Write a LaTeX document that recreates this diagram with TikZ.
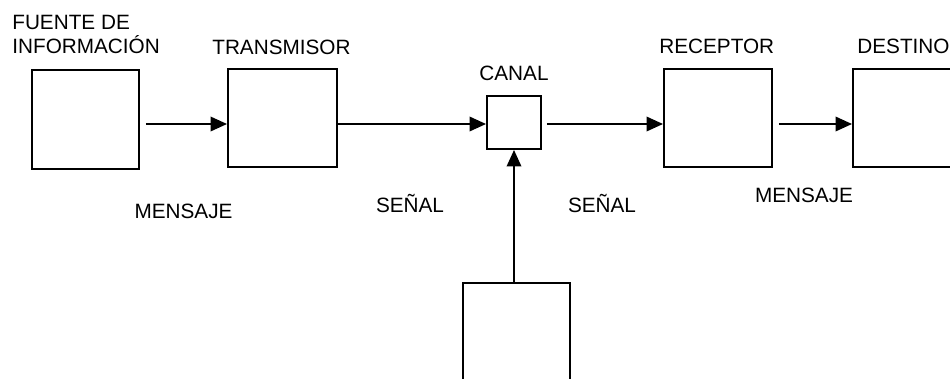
\documentclass[tikz,border=0pt]{standalone}
\usepackage{fontspec}
\setmainfont{Liberation Sans}
\usetikzlibrary{positioning,arrows.meta,calc}
\tikzset{
    block/.style={draw=black, rectangle, line width=1.1pt,
                  minimum width=2.16cm, minimum height=1.96cm, inner sep=0pt},
    smallblock/.style={draw=black, rectangle, line width=1.1pt,
                       minimum width=1.08cm, minimum height=1.06cm, inner sep=0pt},
    tag/.style={font=\fontsize{11.8}{13.6}\selectfont, inner sep=0pt},
    % Arrow style
    signal/.style={-{Triangle[length=0.33cm,width=0.29cm]}, line width=1.1pt}
}

\begin{document}
\begin{tikzpicture}
    \clip (0,0) rectangle (19,-7.56);

    % Blocks
    \node[block, minimum width=2.14cm, minimum height=1.98cm] (fuente) at (1.71,-2.39) {};
    \node[block, minimum width=2.18cm] (transmisor) at (5.65,-2.36) {};
    \node[smallblock] (canal) at (10.28,-2.45) {};
    \node[block] (receptor) at (14.36,-2.36) {};
    \node[block] (destino) at (18.14,-2.36) {};
    \node[block, minimum width=2.14cm, anchor=north] (ruido) at (10.33,-5.64) {};

    % Block titles
    \node[tag, anchor=base west, align=left] (tfuente) at (0.24,-1.06) {FUENTE DE\\INFORMACIÓN};
    \node[tag, anchor=base west] (ttransmisor) at (4.24,-1.08) {TRANSMISOR};
    \node[tag, anchor=base] (tcanal) at (10.28,-1.6) {CANAL};
    \node[tag, anchor=base west] (treceptor) at (13.18,-1.06) {RECEPTOR};
    \node[tag, anchor=base west] (tdestino) at (17.14,-1.06) {DESTINO};

    % Signal names
    \node[tag, anchor=base] (mensaje1) at (3.67,-4.36) {MENSAJE};
    \node[tag, anchor=base] (senal1) at (8.2,-4.24) {SEÑAL};
    \node[tag, anchor=base] (senal2) at (12.04,-4.24) {SEÑAL};
    \node[tag, anchor=base] (mensaje2) at (16.08,-4.04) {MENSAJE};

    % Signal paths
    \draw[signal] ([shift={(0.12,-0.09)}]fuente.east) -- ([yshift=-0.12cm]transmisor.west);
    \draw[signal] ([yshift=-0.12cm]transmisor.east) -- ([yshift=-0.03cm]canal.west);
    \draw[signal] ([shift={(0.1,-0.03)}]canal.east) -- ([yshift=-0.12cm]receptor.west);
    \draw[signal] ([shift={(0.12,-0.12)}]receptor.east) -- ([yshift=-0.12cm]destino.west);
    \draw[signal] ([xshift=-0.05cm]ruido.north) -- (canal.south);
\end{tikzpicture}
\end{document}
